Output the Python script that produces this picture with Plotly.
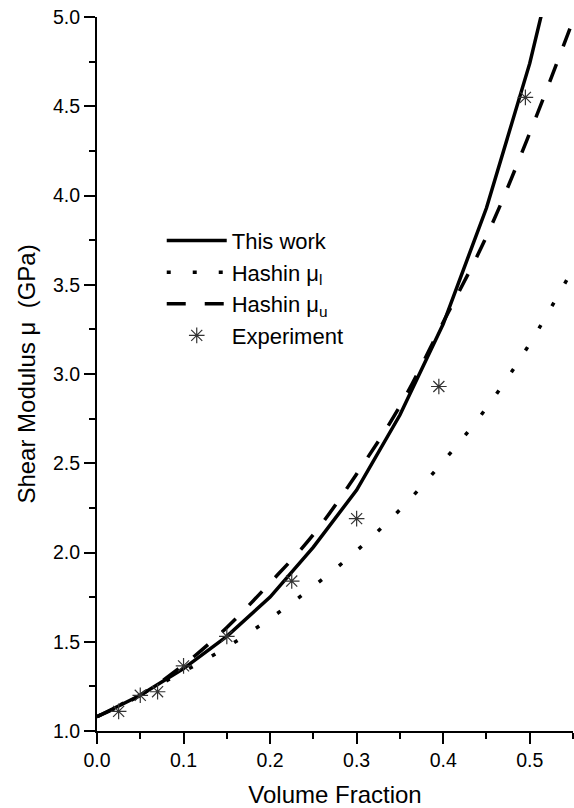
import plotly.graph_objects as go

# ---- data ----
vf = [0.0, 0.05, 0.10, 0.15, 0.20, 0.25, 0.30, 0.35, 0.40, 0.45, 0.50, 0.55]
this_work = [1.08, 1.20, 1.35, 1.53, 1.75, 2.03, 2.35, 2.77, 3.28, 3.93, 4.74, 5.75]
hashin_upper = [1.08, 1.20, 1.37, 1.58, 1.83, 2.10, 2.44, 2.82, 3.29, 3.77, 4.35, 4.98]
hashin_lower = [1.08, 1.205, 1.333, 1.47, 1.63, 1.81, 2.01, 2.24, 2.51, 2.81, 3.17, 3.59]

exp_vf = [0.025, 0.05, 0.07, 0.10, 0.15, 0.225, 0.30, 0.395, 0.495]
exp_mu = [1.11, 1.20, 1.22, 1.365, 1.53, 1.84, 2.19, 2.93, 4.55]

x_ticks = [0.0, 0.1, 0.2, 0.3, 0.4, 0.5]
x_labels = ["0.0", "0.1", "0.2", "0.3", "0.4", "0.5"]
y_ticks = [1.0, 1.5, 2.0, 2.5, 3.0, 3.5, 4.0, 4.5, 5.0]
y_labels = ["1.0", "1.5", "2.0", "2.5", "3.0", "3.5", "4.0", "4.5", "5.0"]

FONT = "Liberation Sans, Arial, sans-serif"

fig = go.Figure()
fig.add_trace(go.Scatter(x=vf, y=this_work, mode="lines", name="This work",
                         line=dict(color="black", width=3.5)))
fig.add_trace(go.Scatter(x=vf, y=hashin_lower, mode="lines", name="Hashin μ<sub>l</sub>",
                         line=dict(color="black", width=3.5, dash="4px,22px", shape="spline")))
fig.add_trace(go.Scatter(x=vf, y=hashin_upper, mode="lines", name="Hashin μ<sub>u</sub>",
                         line=dict(color="black", width=3.5, dash="19px,19px", shape="spline")))
fig.add_trace(go.Scatter(x=exp_vf, y=exp_mu, mode="markers", name="Experiment",
                         marker=dict(symbol="asterisk-open", size=13, color="#333",
                                     line=dict(color="#333", width=1.2))))

axis_common = dict(
    showline=True, linecolor="black", linewidth=2,
    ticks="outside", ticklen=11, tickwidth=2, tickcolor="black",
    showgrid=False, zeroline=False,
    tickfont=dict(family=FONT, size=19.5, color="black"),
    mirror=False,
)

fig.update_xaxes(range=[0, 0.55], tickvals=x_ticks, ticktext=x_labels,
                 title=dict(text="Volume Fraction", font=dict(family=FONT, size=24, color="black"),
                            standoff=18),
                 minor=dict(dtick=0.05, ticklen=6, tickwidth=2, tickcolor="black", ticks="outside"),
                 **axis_common)
fig.update_yaxes(range=[1.0, 5.0], tickvals=y_ticks, ticktext=y_labels,
                 title=dict(text="Shear Modulus μ\u00a0\u00a0(GPa)",
                            font=dict(family=FONT, size=24, color="black"), standoff=11),
                 minor=dict(dtick=0.25, ticklen=6, tickwidth=2, tickcolor="black", ticks="outside"),
                 **axis_common)

fig.update_layout(
    width=574, height=808,
    margin=dict(l=97, r=1, t=17, b=77, autoexpand=False),
    paper_bgcolor="white", plot_bgcolor="white",
    font=dict(family=FONT, color="black"),
    showlegend=True,
    legend=dict(x=0.136, y=0.716, xanchor="left", yanchor="top",
                bgcolor="rgba(0,0,0,0)", borderwidth=0,
                font=dict(family=FONT, size=22, color="black"),
                itemwidth=60, tracegroupgap=0),
)

fig.write_html("out.html")
